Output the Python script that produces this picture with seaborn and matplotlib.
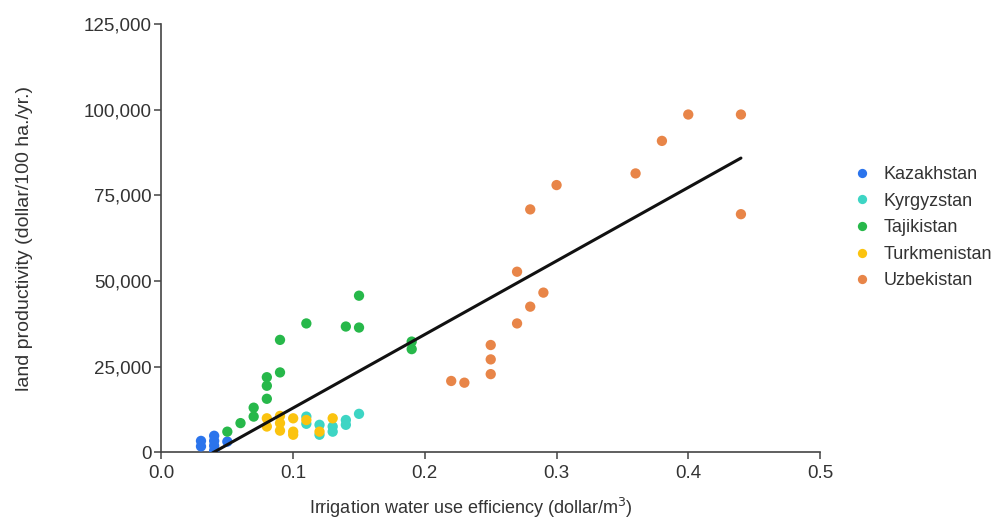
import numpy as np
import pandas as pd
import matplotlib
matplotlib.use('Agg')
import matplotlib.pyplot as plt
from matplotlib.ticker import FuncFormatter
import seaborn as sns

# values
kaz_x = [0.03, 0.03, 0.04, 0.04, 0.04, 0.04, 0.05]
kaz_y = [3300, 1700, 4800, 3300, 1900, 500, 3100]

kyr_x = [0.11, 0.11, 0.12, 0.12, 0.13, 0.13, 0.14, 0.14, 0.15]
kyr_y = [10400, 8300, 8000, 5100, 7500, 6000, 9400, 8000, 11200]

taj_x = [0.05, 0.06, 0.07, 0.07, 0.08, 0.08, 0.08, 0.09, 0.09, 0.11, 0.14, 0.15, 0.15, 0.19, 0.19]
taj_y = [6000, 8500, 13000, 10400, 21900, 19400, 15600, 32800, 23300, 37600, 36700, 36400, 45700, 32300, 30100]

tur_x = [0.08, 0.08, 0.09, 0.09, 0.09, 0.10, 0.10, 0.10, 0.11, 0.12, 0.13]
tur_y = [9900, 7500, 10600, 8500, 6300, 9900, 6000, 5100, 9400, 6000, 9900]

uzb_x = [0.22, 0.23, 0.25, 0.25, 0.25, 0.27, 0.27, 0.28, 0.28, 0.29, 0.30, 0.36, 0.38, 0.40, 0.44, 0.44]
uzb_y = [20800, 20300, 31300, 27100, 22800, 52700, 37600, 70900, 42500, 46600, 78000, 81400, 90900, 98600, 98600, 69500]

countries = ['Kazakhstan', 'Kyrgyzstan', 'Tajikistan', 'Turkmenistan', 'Uzbekistan']
colors = ['#2b74ec', '#3dd5c4', '#27b84a', '#fbc30f', '#e88548']

frames = []
for name, xs, ys in zip(countries,
                        [kaz_x, kyr_x, taj_x, tur_x, uzb_x],
                        [kaz_y, kyr_y, taj_y, tur_y, uzb_y]):
    frames.append(pd.DataFrame({'eff': xs, 'prod': ys, 'country': name}))
df = pd.concat(frames, ignore_index=True)

sns.set_style('white')
plt.rcParams['font.family'] = ['Liberation Sans', 'DejaVu Sans']

fig = plt.figure(figsize=(10.03, 5.24), dpi=100)
ax = fig.add_axes([0.161, 0.137, 0.6565, 0.817])

sns.scatterplot(data=df, x='eff', y='prod', hue='country', hue_order=countries,
                palette=colors, s=55, edgecolor='none', ax=ax, zorder=3)
sns.regplot(data=df, x='eff', y='prod', scatter=False, ci=None, truncate=True,
            line_kws={'color': '#111111', 'lw': 2.2, 'zorder': 4}, ax=ax)

ax.set_xlim(0, 0.5)
ax.set_ylim(0, 125000)
ax.set_xticks([0.0, 0.1, 0.2, 0.3, 0.4, 0.5])
ax.set_yticks([0, 25000, 50000, 75000, 100000, 125000])
ax.yaxis.set_major_formatter(FuncFormatter(lambda v, p: '{:,.0f}'.format(v)))
ax.xaxis.set_major_formatter(FuncFormatter(lambda v, p: '{:.1f}'.format(v)))

for s in ['top', 'right']:
    ax.spines[s].set_visible(False)
for s in ['left', 'bottom']:
    ax.spines[s].set_color('#444444')
    ax.spines[s].set_linewidth(1.2)
ax.tick_params(axis='both', direction='out', length=5, width=1.1, color='#444444',
               labelsize=13.5, labelcolor='#333333', left=True, bottom=True)
ax.tick_params(axis='x', pad=4)
ax.tick_params(axis='y', pad=2)

ax.set_xlabel('Irrigation water use efficiency (dollar/m$^3$)', fontsize=13,
              color='#333333')
ax.set_ylabel('land productivity (dollar/100 ha./yr.)', fontsize=14,
              color='#333333')
ax.xaxis.set_label_coords(0.47, -0.103)
ax.yaxis.set_label_coords(-0.195, 0.5)

leg = ax.legend(loc='upper left', bbox_to_anchor=(1.018, 0.706), frameon=False,
                fontsize=13, handlelength=1.5, handletextpad=0.45,
                labelspacing=0.53, markerscale=0.9)
for t in leg.get_texts():
    t.set_color('#333333')

fig.savefig('out.png', dpi=100)
